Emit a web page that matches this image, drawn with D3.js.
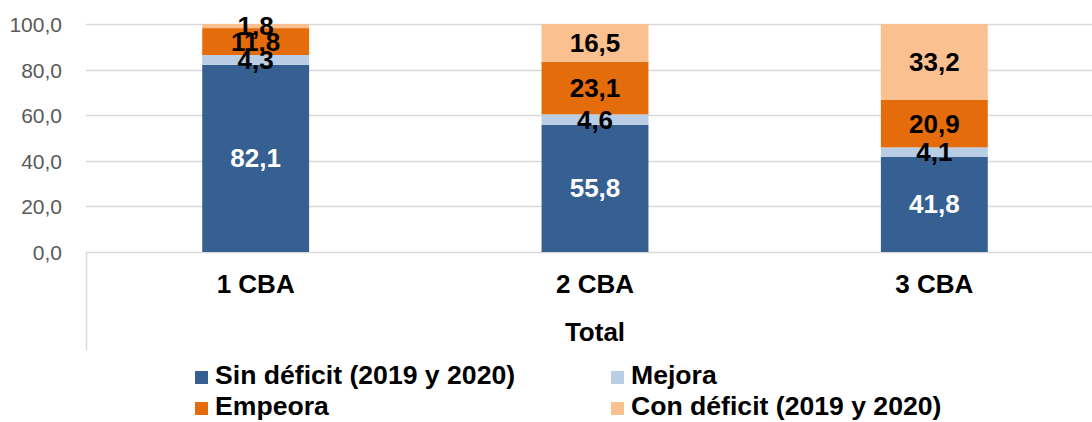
<!DOCTYPE html>
<head>
    <meta charset="utf-8">
    <style>
        body { margin: 0; background: #fff; font-family: 'Liberation Sans', Arial, sans-serif; }
        svg { position: absolute; top: 0; left: 0; }
        .tick-label { font-size: 21px; fill: #595959; text-anchor: end; }
        .cat-label, .group-label { font-size: 26px; font-weight: bold; text-anchor: middle; fill: #000; }
        .value-label { font-size: 26px; font-weight: bold; text-anchor: middle; }
        .legend text { font-size: 26.6px; font-weight: bold; fill: #000; }
    </style>
    <script src="https://d3js.org/d3.v7.min.js"></script>
</head>
<body>
<script>
    ////////////// Data //////////////
    const categories = ["1 CBA", "2 CBA", "3 CBA"]
    const series = ["Sin déficit (2019 y 2020)", "Mejora", "Empeora", "Con déficit (2019 y 2020)"]
    const sin_deficit = [82.1, 55.8, 41.8]
    const mejora = [4.3, 4.6, 4.1]
    const empeora = [11.8, 23.1, 20.9]
    const con_deficit = [1.8, 16.5, 33.2]
    const y_ticks = [0, 20, 40, 60, 80, 100]
    const colors = ["#376092", "#B9CDE5", "#E46C0A", "#FAC090"]
    const label_colors = ["#fff", "#000", "#000", "#000"]

    const values = [sin_deficit, mejora, empeora, con_deficit]
    const rows = categories.map((c, i) => {
        let r = { cat: c }
        series.forEach((s, j) => r[s] = values[j][i])
        return r
    })

    ////////////// SVG //////////////
    const W = 1092, H = 422
    const svg = d3.select("body").append("svg").attr("width", W).attr("height", H)

    const plot = { left: 86, right: 1104, top: 24, bottom: 252 }

    const x_scale = d3.scaleBand()
        .domain(categories)
        .range([plot.left, plot.right])
        .paddingInner(0.685)
        .paddingOuter(0.3425)

    const y_scale = d3.scaleLinear()
        .domain([0, 100])
        .range([plot.bottom, plot.top])

    ////////////// Grid and axis //////////////
    svg.append("g").selectAll("line")
        .data(y_ticks)
        .join("line")
        .attr("x1", plot.left).attr("x2", W)
        .attr("y1", d => Math.round(y_scale(d)) + 0.5)
        .attr("y2", d => Math.round(y_scale(d)) + 0.5)
        .attr("stroke", "#d9d9d9")
        .attr("stroke-width", 1.5)

    svg.append("g").selectAll("text")
        .data(y_ticks)
        .join("text")
        .attr("class", "tick-label")
        .attr("x", 62)
        .attr("y", d => y_scale(d) + 8)
        .text(d => d3.format(".1f")(d).replace(".", ","))

    //Multi-level category axis left border
    svg.append("line")
        .attr("x1", plot.left + 0.5).attr("x2", plot.left + 0.5)
        .attr("y1", plot.bottom).attr("y2", 350)
        .attr("stroke", "#d9d9d9")
        .attr("stroke-width", 1.5)

    ////////////// Bars //////////////
    const stacked = d3.stack().keys(series)(rows)

    const layers = svg.append("g").selectAll("g")
        .data(stacked)
        .join("g")
        .attr("fill", (d, i) => colors[i])

    layers.selectAll("rect")
        .data(d => d)
        .join("rect")
        .attr("x", d => x_scale(d.data.cat))
        .attr("width", x_scale.bandwidth())
        .attr("y", d => y_scale(d[1]))
        .attr("height", d => y_scale(d[0]) - y_scale(d[1]))

    ////////////// Value labels //////////////
    //labels of thin segments overlap, as in the original chart
    stacked.forEach((layer, i) => {
        svg.append("g").selectAll("text")
            .data(layer)
            .join("text")
            .attr("class", "value-label")
            .attr("fill", label_colors[i])
            .attr("x", d => x_scale(d.data.cat) + x_scale.bandwidth() / 2)
            .attr("y", d => y_scale((d[0] + d[1]) / 2) + 9)
            .text(d => d3.format(".1f")(d[1] - d[0]).replace(".", ","))
    })

    ////////////// Category labels //////////////
    svg.append("g").selectAll("text")
        .data(categories)
        .join("text")
        .attr("class", "cat-label")
        .attr("x", d => x_scale(d) + x_scale.bandwidth() / 2)
        .attr("y", 293)
        .text(d => d)

    svg.append("text")
        .attr("class", "group-label")
        .attr("x", x_scale("2 CBA") + x_scale.bandwidth() / 2)
        .attr("y", 341)
        .text("Total")

    ////////////// Legend //////////////
    const legend_pos = [[195, 384], [611, 384], [195, 415], [611, 415]]
    const legend = svg.append("g").attr("class", "legend")
    series.forEach((s, i) => {
        const [lx, ly] = legend_pos[i]
        legend.append("rect")
            .attr("x", lx).attr("y", ly - 13)
            .attr("width", 13).attr("height", 13)
            .attr("fill", colors[i])
        legend.append("text")
            .attr("x", lx + 20)
            .attr("y", ly)
            .text(s)
    })
</script>
</body>
